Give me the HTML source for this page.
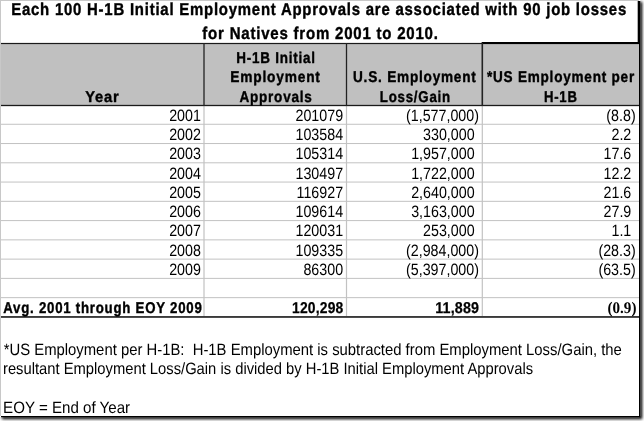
<!DOCTYPE html>
<html><head><meta charset="utf-8"><title>H-1B Initial Employment Approvals</title>
<style>
html,body{margin:0;padding:0;background:#fff;}
body{width:644px;height:421px;overflow:hidden;}
svg{display:block;}
text{font-family:"Liberation Sans",Arial,sans-serif;white-space:pre;}
text.serif{font-family:"Liberation Serif","Times New Roman",serif;}
</style></head><body>
<svg width="644" height="421" viewBox="0 0 644 421">
<defs><filter id="bl" x="-2%" y="-2%" width="104%" height="104%"><feGaussianBlur stdDeviation="0.3"/></filter></defs>
<g shape-rendering="auto">
<rect x="0.00" y="0.00" width="644.00" height="421.00" fill="#fff"/>
<defs><filter id="sh" x="-5%" y="-5%" width="110%" height="110%"><feGaussianBlur stdDeviation="1.5"/></filter></defs>
<rect x="1.9" y="1.9" width="640.3" height="417.2" fill="#000" opacity="1.0" filter="url(#sh)"/>
<rect x="0.00" y="0.00" width="640.30" height="417.20" fill="#fff"/>
<rect x="0.00" y="0.00" width="639.00" height="1.00" fill="#c8c8c8"/>
<rect x="0.00" y="0.00" width="1.00" height="416.00" fill="#c8c8c8"/>
<rect x="1.00" y="44.00" width="638.00" height="61.00" fill="#c0c0c0"/>
<rect x="1.00" y="123.77" width="638.00" height="1.00" fill="#c2c2c2"/>
<rect x="1.00" y="143.03" width="638.00" height="1.00" fill="#c2c2c2"/>
<rect x="1.00" y="162.30" width="638.00" height="1.00" fill="#c2c2c2"/>
<rect x="1.00" y="181.56" width="638.00" height="1.00" fill="#c2c2c2"/>
<rect x="1.00" y="200.82" width="638.00" height="1.00" fill="#c2c2c2"/>
<rect x="1.00" y="220.09" width="638.00" height="1.00" fill="#c2c2c2"/>
<rect x="1.00" y="239.36" width="638.00" height="1.00" fill="#c2c2c2"/>
<rect x="1.00" y="258.62" width="638.00" height="1.00" fill="#c2c2c2"/>
<rect x="1.00" y="277.88" width="638.00" height="1.00" fill="#c2c2c2"/>
<rect x="1.00" y="297.15" width="638.00" height="1.00" fill="#c2c2c2"/>
<rect x="203.40" y="105.00" width="1.20" height="211.92" fill="#c2c2c2"/>
<rect x="345.90" y="105.00" width="1.20" height="211.92" fill="#c2c2c2"/>
<rect x="481.70" y="105.00" width="1.20" height="211.92" fill="#c2c2c2"/>
<rect x="1.00" y="42.90" width="638.00" height="1.20" fill="#1a1a1a"/>
<rect x="1.00" y="104.85" width="638.00" height="1.30" fill="#1a1a1a"/>
<rect x="481.65" y="42.00" width="157.35" height="2.00" fill="#000"/>
<rect x="1.00" y="316.00" width="638.00" height="1.90" fill="#3a3a3a"/>
<rect x="203.35" y="43.00" width="1.30" height="63.00" fill="#222"/>
<rect x="345.85" y="43.00" width="1.30" height="63.00" fill="#222"/>
<rect x="481.50" y="43.00" width="1.60" height="63.00" fill="#222"/>
<rect x="639.00" y="1.00" width="1.30" height="416.20" fill="#000"/>
<rect x="637.70" y="1.00" width="1.50" height="43.00" fill="#000"/>
<rect x="1.00" y="416.00" width="639.30" height="1.20" fill="#000"/>
</g>
<g filter="url(#bl)" text-rendering="geometricPrecision">
<g id="title">
<text transform="translate(11.21 15.35) scale(0.8677 1.0000)" font-size="17.2" font-weight="bold" letter-spacing="0.9" stroke="#000" stroke-width="0.4" stroke-linejoin="round" fill="#000">Each 100 H-1B Initial Employment Approvals are associated with 90 job losses</text>
<text transform="translate(202.30 38.70) scale(0.8737 1.0000)" font-size="17.2" font-weight="bold" letter-spacing="0.9" stroke="#000" stroke-width="0.4" stroke-linejoin="round" fill="#000">for Natives from 2001 to 2010.</text>
</g>
<g id="column-headers">
<text transform="translate(85.21 101.50) scale(0.9417 1.0000)" font-size="15.6" font-weight="bold" letter-spacing="0.9" stroke="#000" stroke-width="0.4" stroke-linejoin="round" fill="#000">Year</text>
<text transform="translate(236.16 63.30) scale(0.8626 1.0000)" font-size="15.6" font-weight="bold" letter-spacing="0.9" stroke="#000" stroke-width="0.4" stroke-linejoin="round" fill="#000">H-1B Initial</text>
<text transform="translate(230.34 82.30) scale(0.8810 1.0000)" font-size="15.6" font-weight="bold" letter-spacing="0.9" stroke="#000" stroke-width="0.4" stroke-linejoin="round" fill="#000">Employment</text>
<text transform="translate(239.39 101.50) scale(0.8678 1.0000)" font-size="15.6" font-weight="bold" letter-spacing="0.9" stroke="#000" stroke-width="0.4" stroke-linejoin="round" fill="#000">Approvals</text>
<text transform="translate(352.98 82.30) scale(0.8723 1.0000)" font-size="15.6" font-weight="bold" letter-spacing="0.9" stroke="#000" stroke-width="0.4" stroke-linejoin="round" fill="#000">U.S. Employment</text>
<text transform="translate(379.77 101.50) scale(0.8520 1.0000)" font-size="15.6" font-weight="bold" letter-spacing="0.9" stroke="#000" stroke-width="0.4" stroke-linejoin="round" fill="#000">Loss/Gain</text>
<text transform="translate(486.90 82.30) scale(0.8688 1.0000)" font-size="15.6" font-weight="bold" letter-spacing="0.9" stroke="#000" stroke-width="0.4" stroke-linejoin="round" fill="#000">*US Employment per</text>
<text transform="translate(543.98 101.50) scale(0.8411 1.0000)" font-size="15.6" font-weight="bold" letter-spacing="0.9" stroke="#000" stroke-width="0.4" stroke-linejoin="round" fill="#000">H-1B</text>
</g>
<g id="table-rows">
<text transform="translate(169.16 120.77) scale(0.8700 1.0000)" font-size="16.4" fill="#000">2001</text>
<text transform="translate(295.49 120.77) scale(0.8700 1.0000)" font-size="16.4" fill="#000">201079</text>
<text transform="translate(406.02 120.77) scale(0.8700 1.0000)" font-size="16.4" fill="#000">(1,577,000)</text>
<text transform="translate(606.36 120.77) scale(0.8700 1.0000)" font-size="16.4" fill="#000">(8.8)</text>
<text transform="translate(169.16 140.03) scale(0.8700 1.0000)" font-size="16.4" fill="#000">2002</text>
<text transform="translate(295.49 140.03) scale(0.8700 1.0000)" font-size="16.4" fill="#000">103584</text>
<text transform="translate(423.02 140.03) scale(0.8700 1.0000)" font-size="16.4" fill="#000">330,000</text>
<text transform="translate(611.47 140.03) scale(0.8700 1.0000)" font-size="16.4" fill="#000">2.2</text>
<text transform="translate(169.16 159.30) scale(0.8700 1.0000)" font-size="16.4" fill="#000">2003</text>
<text transform="translate(295.49 159.30) scale(0.8700 1.0000)" font-size="16.4" fill="#000">105314</text>
<text transform="translate(411.13 159.30) scale(0.8700 1.0000)" font-size="16.4" fill="#000">1,957,000</text>
<text transform="translate(603.53 159.30) scale(0.8700 1.0000)" font-size="16.4" fill="#000">17.6</text>
<text transform="translate(169.16 178.56) scale(0.8700 1.0000)" font-size="16.4" fill="#000">2004</text>
<text transform="translate(295.49 178.56) scale(0.8700 1.0000)" font-size="16.4" fill="#000">130497</text>
<text transform="translate(411.13 178.56) scale(0.8700 1.0000)" font-size="16.4" fill="#000">1,722,000</text>
<text transform="translate(603.53 178.56) scale(0.8700 1.0000)" font-size="16.4" fill="#000">12.2</text>
<text transform="translate(169.16 197.82) scale(0.8700 1.0000)" font-size="16.4" fill="#000">2005</text>
<text transform="translate(296.55 197.82) scale(0.8700 1.0000)" font-size="16.4" fill="#000">116927</text>
<text transform="translate(411.13 197.82) scale(0.8700 1.0000)" font-size="16.4" fill="#000">2,640,000</text>
<text transform="translate(603.53 197.82) scale(0.8700 1.0000)" font-size="16.4" fill="#000">21.6</text>
<text transform="translate(169.16 217.09) scale(0.8700 1.0000)" font-size="16.4" fill="#000">2006</text>
<text transform="translate(295.49 217.09) scale(0.8700 1.0000)" font-size="16.4" fill="#000">109614</text>
<text transform="translate(411.13 217.09) scale(0.8700 1.0000)" font-size="16.4" fill="#000">3,163,000</text>
<text transform="translate(603.53 217.09) scale(0.8700 1.0000)" font-size="16.4" fill="#000">27.9</text>
<text transform="translate(169.16 236.36) scale(0.8700 1.0000)" font-size="16.4" fill="#000">2007</text>
<text transform="translate(295.49 236.36) scale(0.8700 1.0000)" font-size="16.4" fill="#000">120031</text>
<text transform="translate(423.02 236.36) scale(0.8700 1.0000)" font-size="16.4" fill="#000">253,000</text>
<text transform="translate(611.47 236.36) scale(0.8700 1.0000)" font-size="16.4" fill="#000">1.1</text>
<text transform="translate(169.16 255.62) scale(0.8700 1.0000)" font-size="16.4" fill="#000">2008</text>
<text transform="translate(295.49 255.62) scale(0.8700 1.0000)" font-size="16.4" fill="#000">109335</text>
<text transform="translate(406.02 255.62) scale(0.8700 1.0000)" font-size="16.4" fill="#000">(2,984,000)</text>
<text transform="translate(598.43 255.62) scale(0.8700 1.0000)" font-size="16.4" fill="#000">(28.3)</text>
<text transform="translate(169.16 274.88) scale(0.8700 1.0000)" font-size="16.4" fill="#000">2009</text>
<text transform="translate(303.42 274.88) scale(0.8700 1.0000)" font-size="16.4" fill="#000">86300</text>
<text transform="translate(406.02 274.88) scale(0.8700 1.0000)" font-size="16.4" fill="#000">(5,397,000)</text>
<text transform="translate(598.43 274.88) scale(0.8700 1.0000)" font-size="16.4" fill="#000">(63.5)</text>
</g>
<g id="average-row">
<text transform="translate(3.20 312.52) scale(0.8487 1.0000)" font-size="15.6" font-weight="bold" letter-spacing="0.9" stroke="#000" stroke-width="0.4" stroke-linejoin="round" fill="#000">Avg. 2001 through EOY 2009</text>
<text transform="translate(291.97 312.52) scale(0.8911 1.0000)" font-size="15.6" font-weight="bold" letter-spacing="0.2" stroke="#000" stroke-width="0.25" stroke-linejoin="round" fill="#000">120,298</text>
<text transform="translate(435.14 312.52) scale(0.9182 1.0000)" font-size="15.6" font-weight="bold" letter-spacing="0.2" stroke="#000" stroke-width="0.25" stroke-linejoin="round" fill="#000">11,889</text>
<text transform="translate(607.49 312.52) scale(0.9344 1.0000)" font-size="16.2" font-weight="bold" class="serif" fill="#000">(0.9)</text>
</g>
<g id="footnotes">
<text transform="translate(3.70 354.50) scale(0.9060 1.0000)" font-size="16.4" fill="#000">*US Employment per H-1B:  H-1B Employment is subtracted from Employment Loss/Gain, the</text>
<text transform="translate(2.97 373.80) scale(0.9007 1.0000)" font-size="16.4" fill="#000">resultant Employment Loss/Gain is divided by H-1B Initial Employment Approvals</text>
<text transform="translate(3.09 413.00) scale(0.9223 1.0000)" font-size="16.4" fill="#000">EOY = End of Year</text>
</g>
</g>
</svg>
</body></html>
